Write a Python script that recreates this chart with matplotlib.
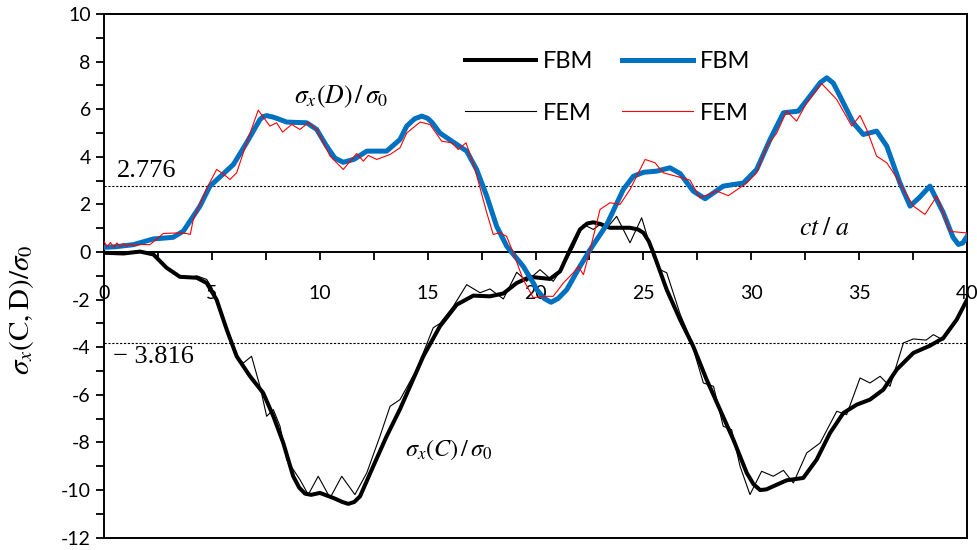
import numpy as np
import matplotlib
matplotlib.use("Agg")
import matplotlib.pyplot as plt
from matplotlib.ticker import MultipleLocator

plt.rcParams['font.family'] = ['Lato', 'DejaVu Sans']
plt.rcParams['mathtext.fontset'] = 'stix'
plt.rcParams['axes.unicode_minus'] = False

# sigma_x(D)/sigma_0 -- FBM
d_fbm_x = [0.0, 0.5, 1.36, 2.29, 3.21, 3.68, 4.45, 4.91, 5.5, 6.0, 6.61, 7.23, 7.4, 7.54, 7.8, 8.0,
           8.47, 9.4, 9.86, 10.32, 10.7, 11.09, 11.6, 12.18, 13.1, 13.72, 14.03, 14.4, 14.73,
           15.0, 15.2, 15.57, 16.35, 16.81, 17.27, 17.74, 18.2, 18.67, 19.43, 19.9, 20.06, 20.4,
           20.72, 21.05, 21.45, 22.06, 22.53, 23.3, 24.07, 24.53, 25.0, 25.62, 26.23, 26.7, 27.31,
           27.86, 28.7, 29.63, 30.25, 30.87, 31.49, 32.18, 32.72, 33.2, 33.5, 33.8, 34.11, 34.73,
           35.19, 35.81, 36.28, 36.89, 37.36, 37.8, 38.28, 38.9, 39.35, 39.6, 39.8, 40.0]
d_fbm_y = [0.2, 0.22, 0.31, 0.55, 0.62, 0.88, 1.93, 2.77, 3.26, 3.68, 4.59, 5.57, 5.7, 5.73, 5.68, 5.62,
           5.46, 5.43, 5.15, 4.45, 3.95, 3.77, 3.9, 4.24, 4.24, 4.73, 5.29, 5.6, 5.71,
           5.62, 5.45, 5.0, 4.52, 4.24, 3.47, 2.35, 1.08, 0.24, -0.6, -1.3, -1.58, -1.95,
           -2.11, -1.95, -1.58, -0.6, 0.1, 1.15, 2.63, 3.18, 3.35, 3.4, 3.54, 3.3, 2.56,
           2.24, 2.77, 2.9, 3.47, 4.73, 5.85, 5.92, 6.55, 7.12, 7.32, 7.1, 6.55, 5.43,
           4.94, 5.08, 4.45, 2.9, 1.93, 2.3, 2.77, 1.65, 0.62, 0.32, 0.38, 0.66]

# sigma_x(D)/sigma_0 -- FEM
d_fem_x = [0.0, 0.15, 0.3, 0.45, 0.6, 0.75, 0.9, 1.05, 1.2, 1.4, 1.6, 2.13, 2.75, 3.3, 3.83,
           4.0, 4.14, 4.74, 5.22, 5.5, 5.84, 6.15, 6.61, 7.15, 7.69, 8.0, 8.28, 8.7, 9.08,
           9.47, 9.86, 10.48, 11.09, 11.71, 12.02, 12.25, 12.64, 13.26, 13.72, 14.03, 14.65,
           15.11, 15.65, 16.12, 16.42, 16.78, 17.2, 17.74, 18.04, 18.35, 18.66, 18.97, 19.43,
           19.9, 20.36, 20.82, 21.29, 21.75, 21.98, 22.22, 22.53, 22.99, 23.45, 23.92, 24.38,
           25.08, 25.54, 25.92, 26.54, 27.16, 27.62, 28.4, 28.94, 29.79, 30.25, 30.72, 31.18,
           31.64, 32.1, 32.57, 33.26, 33.96, 34.66, 35.04, 35.35, 35.81, 36.28, 36.74, 37.51,
           38.05, 38.6, 39.21, 40.0]
d_fem_y = [0.45, 0.22, 0.4, 0.2, 0.38, 0.22, 0.36, 0.24, 0.34, 0.26, 0.32, 0.31, 0.78, 0.8, 0.78,
           0.74, 1.37, 2.63, 3.47, 3.3, 3.05, 3.33, 4.59, 5.96, 5.29, 5.43, 5.04, 5.36, 5.15,
           5.43, 5.15, 4.03, 3.47, 4.14, 3.82, 4.06, 3.89, 4.1, 4.38, 5.0, 5.46,
           5.36, 4.66, 4.59, 4.31, 4.59, 3.47, 1.65, 0.74, 0.81, 0.66, -0.03, -1.16,
           -1.92, -1.86, -1.86, -1.3, -0.87, -0.6, -0.95, 0.1, 1.79, 2.07, 2.0, 2.63,
           3.89, 3.75, 3.33, 3.18, 3.02, 2.28, 2.56, 2.37, 2.9, 3.33, 4.45, 5.0,
           5.92, 5.5, 6.27, 7.08, 6.41, 5.29, 5.74, 5.15, 4.03, 3.75, 3.12, 1.93,
           1.58, 2.35, 0.87, 0.8]

# sigma_x(C)/sigma_0 -- FBM
c_fbm_x = [0.0, 0.9, 1.67, 2.29, 2.9, 3.52, 4.3, 4.76, 5.22, 5.69, 6.15, 6.77, 7.38, 7.85,
           8.31, 8.77, 9.05, 9.32, 9.6, 10.01, 10.63, 11.05, 11.32, 11.6, 11.87, 12.48, 13.1,
           13.72, 14.8, 15.57, 16.35, 17.12, 17.89, 18.51, 19.13, 19.75, 20.67, 21.14, 21.6,
           22.06, 22.4, 22.68, 23.0, 23.45, 24.38, 24.75, 25.0, 25.25, 25.46, 26.08, 26.7, 27.31,
           27.93, 28.55, 29.17, 29.79, 30.1, 30.41, 30.7, 31.02, 31.64, 32.41, 33.03, 33.65,
           34.27, 34.89, 35.5, 36.12, 36.74, 37.51, 38.29, 38.9, 39.52, 40.0]
c_fbm_y = [-0.03, -0.06, 0.02, -0.1, -0.66, -1.04, -1.08, -1.3, -2.0, -3.26, -4.38, -5.22, -5.92, -6.9,
           -8.02, -9.42, -9.9, -10.15, -10.2, -10.12, -10.33, -10.5, -10.58, -10.5, -10.26, -9.0, -7.74,
           -6.6, -4.38, -3.12, -2.21, -1.83, -1.86, -1.74, -1.3, -1.04, -1.13, -0.81, 0.1,
           0.95, 1.2, 1.25, 1.18, 1.02, 1.02, 0.95, 0.81, 0.45, -0.03, -1.58, -2.84, -3.96,
           -5.36, -6.62, -7.88, -9.28, -9.75, -10.0, -9.97, -9.84, -9.59, -9.49, -8.72, -7.6,
           -6.76, -6.41, -6.2, -5.78, -4.94, -4.24, -3.93, -3.61, -2.84, -2.0]

# sigma_x(C)/sigma_0 -- FEM
c_fem_x = [0.0, 0.9, 1.67, 2.29, 2.9, 3.52, 3.9, 4.3, 4.76, 5.0, 5.22, 5.69, 6.15, 6.46, 6.84,
           7.23, 7.54, 7.85, 8.16, 8.47, 9.08, 9.47, 9.93, 10.48, 11.02, 11.63, 12.18, 12.79,
           13.26, 13.72, 14.49, 15.26, 15.57, 16.19, 16.81, 17.43, 17.89, 18.51, 19.13, 19.59,
           20.21, 20.82, 21.29, 21.75, 22.22, 22.68, 22.99, 23.3, 23.76, 24.38, 24.92, 25.46,
           25.77, 26.08, 26.7, 27.16, 27.78, 28.25, 28.7, 29.09, 29.48, 29.94, 30.48, 31.02,
           31.49, 31.95, 32.57, 33.19, 33.96, 34.42, 35.04, 35.5, 35.97, 36.43, 37.05, 37.51,
           38.1, 38.44, 38.9, 39.52, 40.0]
c_fem_y = [-0.03, -0.08, 0.0, -0.12, -0.7, -1.0, -1.1, -1.0, -1.15, -1.5, -2.0, -3.26, -4.4, -4.66, -4.38,
           -5.64, -6.9, -6.62, -7.32, -8.72, -9.56, -10.19, -9.42, -10.33, -9.42, -10.19, -9.28, -7.74,
           -6.48, -6.2, -4.94, -3.18, -3.0, -2.28, -1.37, -1.71, -1.55, -1.97, -0.85, -1.23,
           -0.74, -1.23, -0.6, 0.2, 1.16, 0.95, 1.16, 1.0, 1.5, 0.39, 1.44, -0.18,
           -0.74, -0.87, -2.6, -3.6, -5.5, -5.64, -7.32, -7.46, -9.0, -10.19, -9.21, -9.42,
           -9.17, -9.7, -8.44, -8.02, -6.69, -6.83, -5.29, -5.5, -5.22, -5.64, -3.82, -3.65,
           -3.7, -3.47, -3.7, -2.84, -2.0]

level_d = 2.776
level_c = -3.816

fig = plt.figure(figsize=(9.78, 5.5), dpi=100)
ax = fig.add_axes([0.1063, 0.0224, 0.8825, 0.9521])

ax.plot(c_fbm_x, c_fbm_y, color='black', lw=2.9, solid_joinstyle='round', label='FBM', zorder=3)
ax.plot(c_fem_x, c_fem_y, color='black', lw=0.8, label='FEM', zorder=4)
ax.plot(d_fbm_x, d_fbm_y, color='#0070C0', lw=3.6, solid_joinstyle='round', label='FBM', zorder=5)
ax.plot(d_fem_x, d_fem_y, color='#FF0000', lw=0.8, label='FEM', zorder=6)

ax.axhline(level_d, color='black', lw=0.8, ls=(0, (2, 1.5)), zorder=2)
ax.axhline(level_c, color='black', lw=0.8, ls=(0, (2, 1.5)), zorder=2)

serif = ['Liberation Serif', 'DejaVu Serif']
ax.text(0.6, 2.95, f'{level_d}', family=serif, fontsize=19, ha='left', va='bottom')
ax.text(0.4, -3.95, '\u2212 ' + f'{abs(level_c)}', family=serif, fontsize=19, ha='left', va='top')
ax.text(11.0, 6.5, r'$\sigma_x(D)\,/\,\sigma_0$', fontsize=18.5, ha='center', va='center')
ax.text(16.0, -8.3, r'$\sigma_x(C)\,/\,\sigma_0$', fontsize=17.5, ha='center', va='center')
ax.text(33.4, 1.03, r'$ct\;/\;a$', fontsize=18.5, ha='center', va='center')

ax.set_xlim(0, 40)
ax.set_ylim(-12, 10)

# x axis runs through y = 0; frame kept on all four sides
ax.spines['bottom'].set_position(('data', 0))
for s in ax.spines.values():
    s.set_linewidth(1.4)
ax.axhline(-12, color='black', lw=1.4, clip_on=False, zorder=7)

ax.xaxis.set_major_locator(MultipleLocator(5))
ax.xaxis.set_minor_locator(MultipleLocator(2.5))
ax.yaxis.set_major_locator(MultipleLocator(2))
ax.yaxis.set_minor_locator(MultipleLocator(1))
ax.tick_params(axis='x', which='both', direction='out', length=6, width=1.3, pad=18,
               labelsize=14, top=False)
ax.tick_params(axis='y', which='both', direction='out', length=6, width=1.3,
               labelsize=14, right=False)

fig.text(22 / 978, 1 - 310 / 550, r'$\sigma_x(\mathrm{C,D})/\sigma_0$', fontsize=21,
         rotation=90, ha='center', va='center')

ax.legend(ncol=2, loc='upper left', bbox_to_anchor=(0.405, 0.952), frameon=False,
          fontsize=17, handlelength=3.0, handletextpad=0.3, columnspacing=1.2,
          labelspacing=1.3, borderpad=0)

fig.savefig('out.png', dpi=100)
